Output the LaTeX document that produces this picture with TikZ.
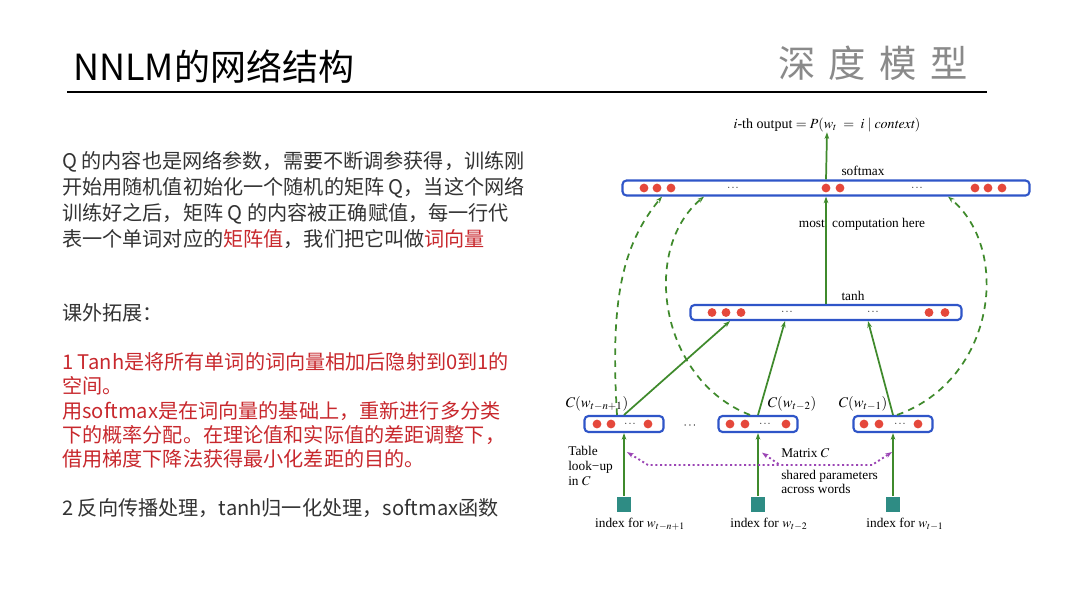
\documentclass[tikz,border=0pt]{standalone}
\usepackage{mathptmx}
\usepackage{fontspec}
\setmainfont{Liberation Serif}
\newfontfamily\cjk{Noto Sans CJK SC}
\usetikzlibrary{arrows.meta,calc}
\definecolor{BarBlue}{HTML}{2F55C8}
\definecolor{DotRed}{HTML}{E5483B}
\definecolor{FlowGreen}{HTML}{3F8A2C}
\definecolor{SharePurple}{HTML}{9B45B5}
\definecolor{IndexTeal}{HTML}{2E8C84}
\definecolor{TextRed}{HTML}{C8282D}
\definecolor{TextGray}{HTML}{333333}
\definecolor{LogoGray}{HTML}{8A8A8A}
\newcommand{\pxu}{0.75pt}
\newcommand{\DotRow}[2]{%
  \foreach \dx in {#1} {\fill[DotRed] (\dx,#2) circle (4.4);}%
}
\tikzset{
  layer/.style={draw=BarBlue,line width=1.6pt,rounded corners=3pt,fill=white,
    inner sep=0pt,minimum height=15*\pxu},
  idxbox/.style={fill=IndexTeal,inner sep=0pt,minimum width=14*\pxu,minimum height=15*\pxu},
  flow/.style={FlowGreen,line width=1.3pt,-{Stealth[length=5pt,width=3.5pt]}},
  skiparc/.style={FlowGreen,line width=1.3pt,dashed,dash pattern=on 5pt off 4pt,
    -{Stealth[length=5pt,width=3.5pt]}},
  shared/.style={SharePurple,line width=1.4pt,dash pattern=on 1.5pt off 2pt,
    {Stealth[length=5pt,width=3.5pt]}-{Stealth[length=5pt,width=3.5pt]}},
  lbl/.style={font=\fontsize{10}{11.3}\selectfont,inner sep=0pt},
  ell/.style={font=\footnotesize,inner sep=0pt},
  slide/.style={font=\cjk\fontsize{15.1}{19.5}\selectfont,text=TextGray,align=left,
    anchor=north west,inner sep=0pt},
}

\begin{document}
\begin{tikzpicture}[x=0.75pt,y=-0.75pt]
  \fill[white] (0,0) rectangle (1080,608);
  \useasboundingbox (0,0) rectangle (1080,608);

  % Title
  \node[font=\cjk\fontsize{27}{30}\selectfont,anchor=base west,inner sep=0pt] (title) at (73,80) {NNLM的网络结构};
  \node[font=\cjk\fontsize{28}{30}\selectfont,text=LogoGray,anchor=base west,inner sep=0pt] (logo) at (778,77)
    {深\hspace{10pt}度\hspace{10pt}模\hspace{10pt}型};
  \draw[line width=1.5pt] (67,92) -- (987,92);

  % Slide text
  \node[slide] (para) at (62,151) {Q 的内容也是网络参数，需要不断调参获得，训练刚\\
    开始用随机值初始化一个随机的矩阵 Q，当这个网络\\
    训练好之后，矩阵 Q 的内容被正确赋值，每一行代\\
    表一个单词对应的{\color{TextRed}矩阵值}，我们把它叫做{\color{TextRed}词向量}};
  \node[slide] (extra) at (62,303) {课外拓展：};
  \node[slide,text=TextRed,font=\cjk\fontsize{15.1}{18.3}\selectfont] (note1) at (62,352)
    {1 Tanh是将所有单词的词向量相加后隐射到0到1的\\
    空间。\\
    用softmax是在词向量的基础上，重新进行多分类\\
    下的概率分配。在理论值和实际值的差距调整下，\\
    借用梯度下降法获得最小化差距的目的。};
  \node[slide] (note2) at (62,498) {2 反向传播处理，tanh归一化处理，softmax函数};

  % Layers
  \node[layer,minimum width=407*\pxu] (sm) at (826,188) {};
  \node[layer,minimum width=271*\pxu] (th) at (826,312.5) {};
  \node[layer,minimum width=79*\pxu,minimum height=16*\pxu] (c1) at (624,424) {};
  \node[layer,minimum width=79*\pxu,minimum height=16*\pxu] (c2) at (758,424) {};
  \node[layer,minimum width=79*\pxu,minimum height=16*\pxu] (c3) at (893,424) {};

  \DotRow{644,657,671,826,840,975,988,1002}{188}
  \DotRow{712,726,741,929,945}{312.5}
  \DotRow{597,611,648}{424}
  \DotRow{730,745,786}{424}
  \DotRow{864,879,918}{424}
  \node[ell] (e1) at (733,188) {$\cdots$};
  \node[ell] (e2) at (917,188) {$\cdots$};
  \node[ell] (e3) at (787,312.5) {$\cdots$};
  \node[ell] (e4) at (873,312.5) {$\cdots$};
  \node[ell] (e5) at (630,424) {$\cdots$};
  \node[ell] (e6) at (765,424) {$\cdots$};
  \node[ell] (e7) at (900,424) {$\cdots$};
  \node[ell,font=\small] (e8) at (690,426) {$\cdots$};

  % Index squares
  \node[idxbox] (ix1) at (624,504) {};
  \node[idxbox] (ix2) at (758,504) {};
  \node[idxbox] (ix3) at (893,504) {};

  % Labels
  \node[lbl,font=\fontsize{10.5}{12}\selectfont] (out) at (827,125) {$i$-th output $= P(w_t\;=\;i\mid \mathit{context})$};
  \node[lbl] (smlab) at (863,171) {softmax};
  \node[lbl] (thlab) at (853,296) {tanh};
  \node[lbl] (mc) at (862,224) {most\hspace{3pt} computation here};
  \node[lbl,font=\fontsize{11}{12}\selectfont] (cl1) at (597,404) {$C(w_{t-n+1})$};
  \node[lbl,font=\fontsize{11}{12}\selectfont] (cl2) at (792,404) {$C(w_{t-2})$};
  \node[lbl,font=\fontsize{11}{12}\selectfont] (cl3) at (863,404) {$C(w_{t-1})$};
  \node[lbl] (il1) at (640,524) {index for $w_{t-n+1}$};
  \node[lbl] (il2) at (769,524) {index for $w_{t-2}$};
  \node[lbl] (il3) at (905,524) {index for $w_{t-1}$};
  \node[lbl,align=left,anchor=north west] (tbl) at (568,446) {Table\\look−up\\in $C$};
  \node[lbl,anchor=west] (mat) at (781,453) {Matrix $C$};
  \node[lbl,align=left,anchor=north west,font=\fontsize{10}{10.3}\selectfont] (shr) at (781,470)
    {shared parameters\\across words};

  % Connections
  \draw[flow] (sm.north) -- (out.south);
  \draw[flow] (th.north) -- (sm.south);
  \draw[flow] (c1.north) -- ($(th.south)+(-96,0)$);
  \draw[flow] (c2.north) -- ($(th.south)+(-41,0)$);
  \draw[flow] (c3.north) -- ($(th.south)+(42,0)$);
  \draw[skiparc] ($(c1.north)+(-7,0)$) .. controls (610,300) and (622,245) .. ($(sm.south)+(-164,0)$);
  \draw[skiparc] ($(c2.north)+(-8,0)$) .. controls (660,380) and (640,250) .. ($(sm.south)+(-122,0)$);
  \draw[skiparc] ($(c3.north)+(4,0)$) .. controls (995,380) and (1012,250) .. ($(sm.south)+(122,0)$);
  \foreach \i in {1,2,3} {\draw[flow] (ix\i.north) -- (c\i.south);}

  % Shared matrix C
  \coordinate (pl) at (648,465);
  \coordinate (pm) at (780,465);
  \coordinate (pr) at (872,465);
  \draw[shared] ($(c1.south)!0.3!(ix1.north)+(3,0)$) -- (pl) -- (pr) -- ($(c3.south)!0.3!(ix3.north)+(-1,0)$);
  \draw[shared,{Stealth[length=5pt,width=3.5pt]}-] ($(c2.south)!0.31!(ix2.north)+(4,0)$) -- (pm);
\end{tikzpicture}
\end{document}
